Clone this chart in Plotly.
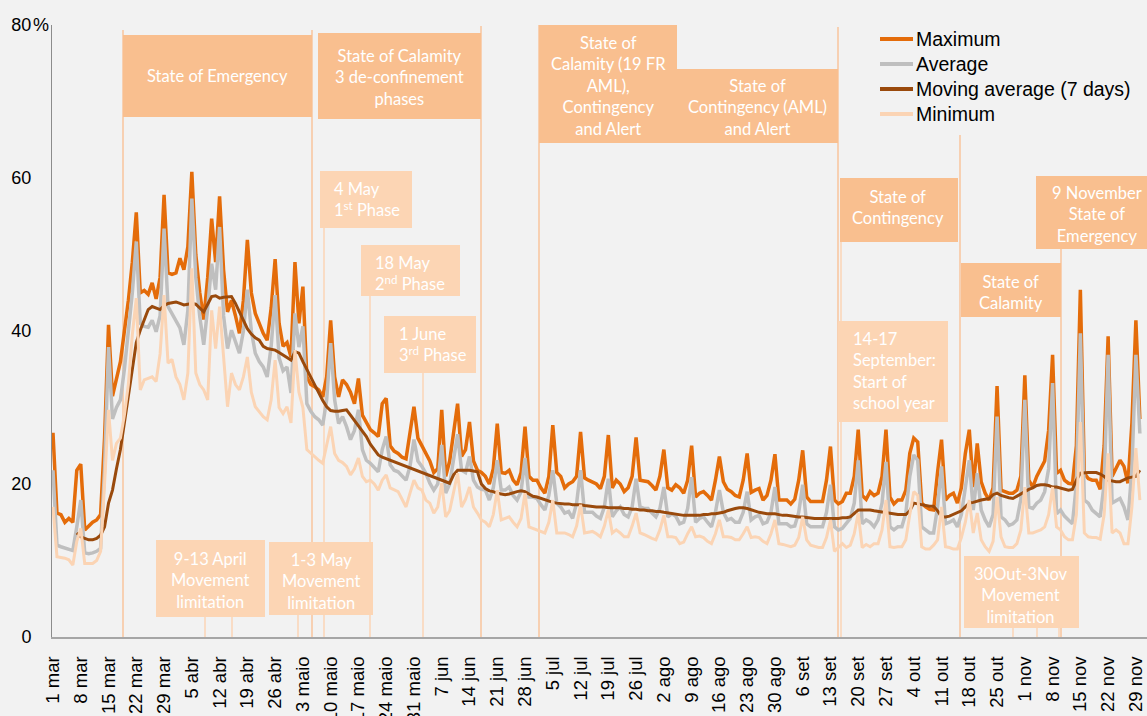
import pandas as pd
import plotly.graph_objects as go

# ---------------- data (percent), daily from 1 March 2020, one row per week (Sun..Sat)
maximum = [
    26.7, 16.2, 16.0, 15.0, 15.5, 15.0, 21.8,
    22.6, 14.0, 14.5, 15.0, 15.3, 16.0, 26.0,
    40.8, 31.5, 34.0, 36.0, 40.0, 44.0, 49.0,
    55.5, 45.0, 45.3, 44.8, 46.3, 44.2, 47.0,
    57.8, 47.6, 47.4, 47.6, 49.5, 48.0, 51.0,
    60.8, 50.0, 45.0, 41.5, 47.0, 54.7, 49.0,
    57.6, 48.0, 42.5, 44.0, 42.0, 39.7, 44.0,
    51.9, 45.0, 42.3, 41.0, 39.7, 38.8, 43.0,
    49.4, 41.0, 38.0, 38.5, 36.6, 49.0, 41.0,
    45.8, 34.0, 33.0, 32.7, 32.3, 31.4, 34.0,
    41.4, 34.0, 31.4, 33.6, 33.0, 32.0, 30.5,
    33.8, 29.0, 28.0, 27.1, 26.7, 26.2, 30.5,
    31.2, 25.0, 24.3, 24.0, 23.5, 23.3, 26.6,
    30.1, 26.0, 25.0, 23.8, 23.0, 21.5, 22.0,
    29.7, 21.0, 23.0, 27.0, 30.5, 23.6, 24.5,
    28.1, 23.0, 21.8, 21.5, 21.0, 20.0, 22.0,
    27.9, 21.5, 21.4, 21.8, 20.5, 19.9, 21.5,
    27.5, 21.0, 20.5, 20.5, 19.5, 18.8, 21.0,
    27.7, 21.5, 21.0, 19.5, 20.0, 20.3, 21.0,
    26.8, 20.8, 20.5, 20.3, 20.0, 19.4, 21.0,
    26.4, 19.5, 20.5, 20.0, 19.0, 19.5, 21.0,
    26.1, 20.5, 20.4, 20.3, 19.8, 19.2, 21.0,
    24.5, 19.5, 19.2, 19.9, 19.5, 18.8, 20.5,
    25.0, 18.3, 18.8, 19.0, 18.5, 17.9, 20.5,
    23.6, 20.3, 19.3, 19.0, 18.5, 18.3, 20.5,
    24.0, 18.9, 19.2, 19.4, 17.9, 18.5, 20.5,
    23.9, 17.9, 17.9, 17.9, 17.4, 18.0, 20.5,
    24.4, 18.3, 17.7, 17.7, 17.7, 17.7, 20.5,
    24.9, 17.9, 17.4, 17.7, 18.8, 18.8, 21.0,
    27.1, 18.5, 18.0, 19.0, 18.5, 18.8, 21.0,
    27.1, 18.3, 17.4, 17.9, 17.9, 19.2, 24.0,
    26.0, 25.5, 17.5, 17.0, 16.7, 16.6, 21.5,
    25.8, 17.9, 18.5, 18.8, 17.5, 19.5, 24.0,
    27.1, 19.6, 25.3, 20.3, 18.8, 17.9, 19.5,
    32.8, 19.2, 19.0, 18.8, 18.8, 19.2, 21.0,
    34.2, 20.5, 19.6, 21.0, 22.0, 23.0, 27.0,
    36.9, 21.4, 21.8, 20.5, 20.1, 20.0, 25.0,
    45.4, 21.4, 20.7, 20.5, 20.5, 19.3, 25.0,
    39.3, 21.0, 22.0, 23.1, 22.3, 20.1, 28.0,
    41.4, 28.5,
]

average = [
    21.8, 12.0, 11.8, 11.6, 11.5, 11.3, 14.4,
    17.9, 11.0, 10.9, 11.0, 11.2, 11.6, 22.0,
    37.9, 28.5, 30.0, 31.0, 35.0, 40.0, 45.0,
    51.7, 41.0, 40.6, 40.5, 41.4, 39.9, 42.0,
    53.4, 43.2, 42.3, 41.5, 40.4, 38.2, 42.7,
    57.3, 47.0, 41.9, 38.2, 43.0, 48.8, 45.4,
    53.6, 42.0, 37.7, 40.1, 38.5, 37.1, 40.0,
    45.4, 40.0, 37.1, 36.0, 35.3, 34.0, 38.0,
    44.7, 36.5, 34.8, 35.3, 31.9, 42.3, 37.9,
    40.6, 30.5, 29.5, 28.8, 28.4, 27.7, 31.0,
    38.4, 31.0, 27.9, 28.8, 27.5, 25.8, 27.0,
    29.7, 24.5, 23.1, 22.7, 22.2, 21.6, 24.5,
    26.2, 22.5, 21.8, 21.6, 21.0, 20.5, 22.3,
    25.8, 23.0, 22.3, 21.4, 20.1, 19.2, 20.0,
    25.1, 18.8, 20.0, 23.0, 26.5, 21.8, 21.5,
    23.6, 20.5, 19.6, 19.3, 19.2, 17.9, 19.5,
    23.1, 19.2, 19.2, 19.6, 18.5, 17.9, 19.0,
    23.4, 18.3, 18.3, 18.1, 17.3, 16.6, 18.5,
    21.8, 17.5, 17.0, 16.2, 16.4, 15.5, 17.5,
    21.8, 16.3, 16.3, 16.3, 15.8, 15.5, 17.0,
    20.7, 15.7, 16.5, 17.0, 16.0, 15.7, 17.0,
    20.7, 17.0, 16.8, 16.8, 16.2, 15.7, 16.8,
    19.6, 15.7, 16.1, 15.8, 14.8, 15.0, 16.8,
    20.9, 15.0, 15.5, 15.7, 15.0, 14.4, 16.3,
    19.2, 16.3, 15.3, 15.5, 15.0, 15.0, 16.3,
    19.0, 15.3, 15.7, 15.9, 14.8, 15.0, 16.3,
    19.6, 14.8, 14.8, 14.8, 14.4, 14.5, 16.3,
    19.9, 14.8, 14.4, 14.4, 14.4, 14.4, 16.3,
    19.9, 14.4, 14.0, 14.2, 14.8, 15.5, 17.5,
    23.1, 14.8, 15.3, 15.0, 14.4, 15.3, 17.5,
    22.9, 14.4, 14.0, 14.4, 14.4, 16.2, 21.0,
    23.8, 23.1, 14.4, 14.0, 13.6, 13.6, 17.0,
    22.3, 14.8, 15.0, 15.3, 14.4, 16.0, 19.5,
    23.1, 16.6, 21.4, 16.6, 15.3, 14.4, 16.0,
    28.8, 15.7, 15.3, 14.6, 14.8, 15.3, 18.0,
    31.0, 17.0, 16.8, 17.5, 17.9, 19.0, 22.0,
    33.2, 16.1, 16.6, 15.8, 15.3, 14.8, 20.0,
    39.7, 17.9, 17.5, 16.6, 16.2, 15.7, 20.0,
    36.9, 17.5, 17.8, 18.1, 17.0, 15.3, 22.0,
    36.9, 26.6,
]

moving_avg = [
    None, None, None, None, None, None, 13.6,
    13.1, 12.9, 12.7, 12.7, 12.9, 13.3, 14.4,
    17.5, 19.2, 22.0, 24.5, 28.0, 31.5, 35.0,
    38.5, 40.1, 41.5, 42.8, 43.2, 43.0, 42.8,
    43.3, 43.6, 43.7, 43.8, 43.6, 43.4, 43.5,
    43.6, 43.5, 43.0, 42.5, 43.5, 44.5, 44.6,
    44.3, 44.4, 44.5, 44.5, 43.6, 42.5, 41.3,
    40.3, 39.6, 39.1, 38.8, 38.0, 37.7, 37.6,
    37.5, 37.2, 36.9, 36.6, 36.2, 37.3, 37.1,
    36.0, 35.0, 34.0, 33.0, 31.8, 30.9, 30.1,
    29.6, 29.5, 29.5, 29.6, 29.7, 29.0, 28.3,
    27.5, 26.8, 26.2, 25.2, 24.5, 23.8, 23.5,
    23.3, 23.1, 22.9, 22.7, 22.5, 22.2, 22.0,
    21.9, 21.6, 21.5, 21.3, 21.0, 20.8, 20.6,
    20.5, 20.3, 20.1, 21.2, 21.8, 21.8, 21.8,
    21.8, 21.7, 21.6, 20.0, 19.4, 19.1, 19.0,
    18.8, 18.7, 18.6, 18.7, 18.9, 19.0, 19.1,
    19.0, 18.7, 18.4, 18.3, 18.1, 17.9, 17.7,
    17.6, 17.5, 17.4, 17.4, 17.4, 17.3, 17.3,
    17.3, 17.2, 17.1, 17.1, 17.0, 17.0, 17.0,
    16.9, 16.9, 16.9, 16.9, 16.8, 16.8, 16.7,
    16.7, 16.6, 16.6, 16.5, 16.5, 16.4, 16.4,
    16.3, 16.2, 16.1, 16.0, 15.9, 15.9, 15.9,
    15.9, 15.9, 15.9, 16.0, 16.0, 16.1, 16.1,
    16.2, 16.3, 16.5, 16.7, 16.8, 16.9, 16.9,
    16.8, 16.6, 16.5, 16.3, 16.2, 16.1, 16.1,
    16.1, 16.0, 15.9, 15.9, 15.8, 15.8, 15.7,
    15.7, 15.6, 15.6, 15.5, 15.5, 15.5, 15.5,
    15.5, 15.5, 15.5, 15.6, 15.6, 15.7, 16.1,
    16.6, 16.6, 16.6, 16.6, 16.5, 16.4, 16.3,
    16.2, 16.1, 16.0, 16.0, 16.0, 16.0, 16.5,
    17.5, 17.4, 17.3, 17.2, 17.1, 17.1, 16.5,
    15.7, 15.7, 15.8, 16.0, 16.2, 16.5, 17.0,
    17.5, 17.6, 17.8, 17.9, 18.0, 18.1, 18.6,
    18.8, 18.5, 18.3, 18.2, 18.1, 18.4, 18.8,
    19.1, 19.3, 19.5, 19.8, 19.9, 19.9, 19.8,
    19.6, 19.6, 19.5, 19.4, 19.2, 19.3, 20.5,
    21.4, 21.5, 21.5, 21.5, 21.5, 21.3, 21.0,
    20.5, 20.4, 20.3, 20.3, 20.6, 20.8, 20.9,
    21.0, 21.8,
]

minimum = [
    17.0, 10.5, 10.4, 10.3, 10.1, 9.4, 12.5,
    14.2, 9.6, 9.6, 9.6, 10.0, 11.2, 20.0,
    29.7, 23.1, 25.3, 26.0, 29.0, 33.0, 39.5,
    44.3, 32.3, 33.6, 33.8, 34.0, 33.4, 37.0,
    44.7, 35.8, 36.3, 34.0, 33.0, 31.0, 34.5,
    48.2, 34.5, 33.0, 32.3, 31.0, 42.7, 37.7,
    43.2, 36.0, 30.1, 34.5, 33.0, 32.3, 34.0,
    36.6, 32.0, 30.1, 29.5, 28.8, 28.4, 31.0,
    36.2, 30.0, 29.2, 30.1, 28.0, 37.5, 32.0,
    30.0, 24.5, 24.0, 23.5, 23.1, 22.7, 25.0,
    27.5, 24.0, 23.1, 22.8, 22.3, 21.2, 22.0,
    23.4, 21.0, 20.3, 20.5, 20.0, 19.2, 20.5,
    21.2, 19.5, 19.2, 19.0, 18.0, 17.0, 18.8,
    20.5, 19.5, 19.2, 17.9, 17.5, 16.2, 17.0,
    20.1, 15.7, 16.5, 19.0, 21.4, 17.0, 18.0,
    19.6, 17.0, 16.2, 15.3, 15.0, 14.4, 16.0,
    19.2, 15.3, 15.5, 15.7, 15.0, 14.4, 15.5,
    18.8, 14.4, 14.2, 14.0, 13.8, 13.6, 15.0,
    17.9, 13.6, 13.6, 13.6, 13.4, 13.1, 14.5,
    17.3, 13.6, 13.7, 13.8, 13.5, 13.1, 14.5,
    16.6, 13.6, 14.0, 13.6, 13.1, 13.1, 14.5,
    16.2, 13.6, 13.4, 13.1, 12.9, 12.7, 14.0,
    15.9, 13.1, 13.1, 13.0, 12.2, 12.4, 13.5,
    14.4, 13.1, 13.2, 13.0, 12.5, 12.2, 13.5,
    15.3, 13.1, 13.1, 13.0, 12.7, 12.7, 13.5,
    14.4, 13.0, 13.1, 13.0, 12.5, 12.2, 13.5,
    15.3, 12.2, 12.1, 12.0, 11.8, 12.0, 13.0,
    15.7, 12.7, 12.0, 11.8, 11.7, 11.7, 13.0,
    15.3, 11.2, 11.7, 12.2, 11.7, 12.0, 13.5,
    16.2, 11.7, 12.1, 11.8, 12.2, 12.2, 14.0,
    17.9, 11.8, 11.7, 11.8, 11.8, 12.7, 16.0,
    19.0, 18.5, 11.8, 11.5, 11.5, 12.0, 12.7,
    17.0, 11.8, 11.7, 11.5, 11.5, 13.0, 15.0,
    17.9, 13.6, 16.2, 12.7, 11.8, 11.2, 12.5,
    18.3, 13.1, 11.8, 11.7, 11.7, 12.2, 14.0,
    19.6, 13.6, 13.6, 13.8, 14.0, 14.4, 16.0,
    19.6, 14.4, 14.0, 13.1, 12.7, 12.7, 16.0,
    28.1, 13.6, 13.1, 13.0, 13.0, 12.8, 16.0,
    24.0, 13.6, 14.0, 13.6, 12.2, 12.2, 17.0,
    24.7, 17.9,
]

tick_labels = [
    "1 mar", "8 mar", "15 mar", "22 mar", "29 mar", "5 abr", "12 abr", "19 abr",
    "26 abr", "3 maio", "10 maio", "17 maio", "24 maio", "31 maio", "7 jun",
    "14 jun", "21 jun", "28 jun", "5 jul", "12 jul", "19 jul", "26 jul", "2 ago",
    "9 ago", "16 ago", "23 ago", "30 ago", "6 set", "13 set", "20 set", "27 set",
    "4 out", "11 out", "18 out", "25 out", "1 nov", "8 nov", "15 nov", "22 nov",
    "29 nov",
]
y_ticks = [0, 20, 40, 60, 80]

dates = pd.date_range("2020-03-01", periods=len(maximum), freq="D")
tick_dates = pd.date_range("2020-03-01", periods=len(tick_labels), freq="7D")

# ---------------- figure
W, H = 1147, 716
L, R, T, B = 52, 0, 25, 79
PW, PH = W - L - R, H - T - B


def px(X):
    return (X - L) / PW


def py(Y):
    return (H - B - Y) / PH


C_MAX = "#E46C0A"
C_AVG = "#BFBFBF"
C_MA = "#9A4A0C"
C_MIN = "#FBD4B4"
BOX_DARK = "#F9BF8F"
BOX_LIGHT = "#FCD5B4"
LINE_DARK = "#F8C49C"
LINE_LIGHT = "#FBD5B6"

series = [
    ("Maximum", maximum, C_MAX, 3.5),
    ("Average", average, C_AVG, 3.5),
    ("Moving average (7 days)", moving_avg, C_MA, 3),
    ("Minimum", minimum, C_MIN, 3),
]

fig = go.Figure()
for name, vals, col, wd in series:
    fig.add_trace(go.Scatter(x=dates, y=vals, name=name, mode="lines",
                             line=dict(color=col, width=wd), showlegend=False))

shapes = []
annotations = []

# vertical event lines (pixel x, top y, style)
vlines = [
    (123, 30, "d"), (312, 30, "d"), (481, 26, "d"), (539, 25, "d"), (838, 27, "d"),
    (960, 135, "d"), (1061, 249, "d"),
    (841, 242, "l"), (324, 228, "l"), (370, 296, "l"), (423, 373, "l"),
    (205, 617, "l"), (232, 617, "l"), (298, 615, "l"),
    (1013, 628, "l"), (1037, 628, "l"), (1059, 628, "l"),
]
for X, Yt, s in vlines:
    shapes.append(dict(type="line", xref="paper", yref="paper",
                       x0=px(X), x1=px(X), y0=0, y1=py(Yt), layer="below",
                       line=dict(color=LINE_DARK if s == "d" else LINE_LIGHT, width=1.5)))

# boxes: (x0, x1, ytop, ybottom, style, text, text x, text y, align)
boxes = [
    (123, 312, 35, 117, "d", "State of Emergency", 217, 76, "center"),
    (318, 481, 33, 119, "d", "State of Calamity<br>3 de-confinement<br>phases", 399, 77, "center"),
    (539, 677, 25, 143, "d", "State of<br>Calamity (19 FR<br>AML),<br>Contingency<br>and Alert", 608, 86, "center"),
    (677, 838, 69, 143, "d", "State of<br>Contingency (AML)<br>and Alert", 757, 108, "center"),
    (840, 958, 178, 242, "d", "State of<br>Contingency", 898, 207, "center"),
    (961, 1061, 263, 317, "d", "State of<br>Calamity", 1011, 292, "center"),
    (1036, 1147, 176, 249, "d", "9 November<br>State of<br>Emergency", 1097, 214, "center"),
    (320, 412, 171, 228, "l", "4 May<br>1<sup>st</sup> Phase", 332, 199, "left"),
    (361, 460, 245, 296, "l", "18 May<br>2<sup>nd</sup> Phase", 373, 273, "left"),
    (384, 476, 316, 373, "l", "1 June<br>3<sup>rd</sup> Phase", 397, 345, "left"),
    (156, 265, 540, 617, "l", "9-13 April<br>Movement<br>limitation", 210, 580, "center"),
    (269, 373, 542, 615, "l", "1-3 May<br>Movement<br>limitation", 321, 581, "center"),
    (838, 948, 321, 422, "l", "14-17<br>September:<br>Start of<br>school year", 851, 371, "left"),
    (964, 1079, 556, 628, "l", "30Out-3Nov<br>Movement<br>limitation", 1021, 595, "center"),
]
for x0, x1, yt, yb, s, txt, tx, ty, al in boxes:
    shapes.append(dict(type="rect", xref="paper", yref="paper",
                       x0=px(x0), x1=px(x1), y0=py(yb), y1=py(yt), layer="above",
                       fillcolor=BOX_DARK if s == "d" else BOX_LIGHT, line=dict(width=0)))
    annotations.append(dict(xref="paper", yref="paper", x=px(tx), y=py(ty), text=txt,
                            showarrow=False, xanchor="center" if al == "center" else "left",
                            yanchor="middle", align=al,
                            font=dict(family="Lato", size=16.5, color="#FFFFFF")))

# legend (top right), drawn as line samples + labels
for i, (name, vals, col, wd) in enumerate(series):
    yy = py(39 + 25 * i)
    shapes.append(dict(type="line", xref="paper", yref="paper",
                       x0=px(880), x1=px(913), y0=yy, y1=yy, layer="above",
                       line=dict(color=col, width=4)))
    annotations.append(dict(xref="paper", yref="paper", x=px(914), y=yy, text=name,
                            showarrow=False, xanchor="left", yanchor="middle",
                            font=dict(family="Liberation Sans", size=19.5, color="#000000")))

# "%" after the top y tick label
annotations.append(dict(xref="paper", yref="y", x=px(32), y=80, text="%", showarrow=False,
                        xanchor="left", yanchor="middle", borderpad=0,
                        font=dict(family="Liberation Sans", size=18, color="#000000")))

fig.update_layout(
    width=W, height=H, autosize=False,
    margin=dict(l=L, r=R, t=T, b=B, pad=0, autoexpand=False),
    paper_bgcolor="#F2F2F2", plot_bgcolor="#F2F2F2",
    font=dict(family="Liberation Sans", size=18, color="#000000"),
    shapes=shapes, annotations=annotations,
    showlegend=False,
    xaxis=dict(type="date", automargin=False,
               range=["2020-02-29 18:00", "2020-12-01 19:12"],
               tickmode="array", tickvals=tick_dates, ticktext=tick_labels,
               tickangle=-90, ticks="", showgrid=False, zeroline=False,
               showline=True, linecolor="#A6A6A6", linewidth=2,
               tickfont=dict(family="Liberation Sans", size=18.5, color="#000000"),
               ticklabelstandoff=10),
    yaxis=dict(range=[0, 80], automargin=False, tickmode="array", tickvals=y_ticks,
               ticktext=[str(v) for v in y_ticks], ticks="", showgrid=False,
               zeroline=False, showline=True, linecolor="#8C8C8C", linewidth=1,
               tickfont=dict(family="Liberation Sans", size=18, color="#000000"),
               ticklabelstandoff=16),
)

fig.write_html(
    "out.html",
    config={"displayModeBar": False},
    post_script=(
        "document.documentElement.style.margin='0';"
        "document.body.style.margin='0';"
        "document.body.style.overflow='hidden';"
        "document.body.style.background='#F2F2F2';"
    ),
)
